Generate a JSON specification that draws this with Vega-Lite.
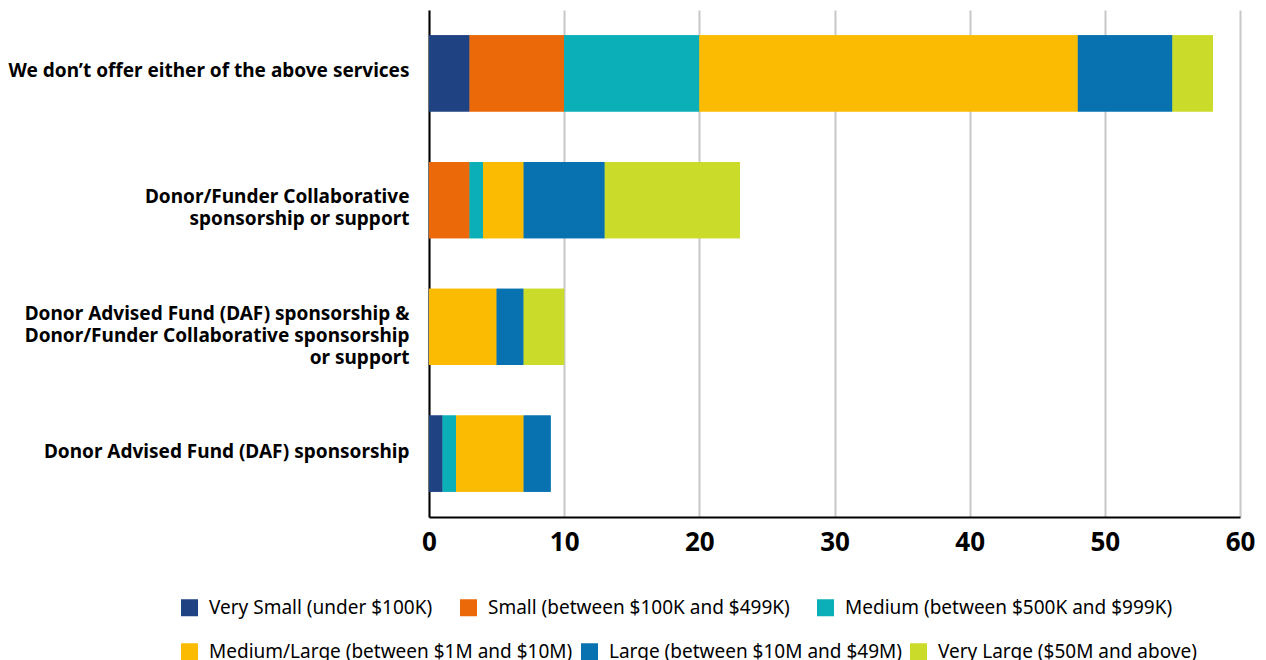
{
  "$schema": "https://vega.github.io/schema/vega-lite/v6.json",
  "autosize": {"type": "none"},
  "width": 811,
  "height": 507,
  "padding": {"left": 429, "top": 10, "right": 26, "bottom": 143},
  "background": "white",
  "config": {
    "view": {"stroke": null},
    "font": "Noto Sans",
    "legend": {
      "title": null,
      "orient": "none",
      "direction": "horizontal",
      "columnPadding": 7,
      "symbolType": "square",
      "symbolSize": 289,
      "symbolStrokeWidth": 0,
      "symbolOpacity": 1,
      "labelFont": "Noto Sans",
      "labelFontSize": 19,
      "labelColor": "#000000",
      "labelOffset": 10,
      "labelLimit": 500
    }
  },
  "data": {
    "values": [
      {"service": "We don’t offer either of the above services", "size": "Very Small (under $100K)", "count": 3},
      {"service": "We don’t offer either of the above services", "size": "Small (between $100K and $499K)", "count": 7},
      {"service": "We don’t offer either of the above services", "size": "Medium (between $500K and $999K)", "count": 10},
      {"service": "We don’t offer either of the above services", "size": "Medium/Large (between $1M and $10M)", "count": 28},
      {"service": "We don’t offer either of the above services", "size": "Large (between $10M and $49M)", "count": 7},
      {"service": "We don’t offer either of the above services", "size": "Very Large ($50M and above)", "count": 3},
      {"service": "Donor/Funder Collaborative|sponsorship or support", "size": "Small (between $100K and $499K)", "count": 3},
      {"service": "Donor/Funder Collaborative|sponsorship or support", "size": "Medium (between $500K and $999K)", "count": 1},
      {"service": "Donor/Funder Collaborative|sponsorship or support", "size": "Medium/Large (between $1M and $10M)", "count": 3},
      {"service": "Donor/Funder Collaborative|sponsorship or support", "size": "Large (between $10M and $49M)", "count": 6},
      {"service": "Donor/Funder Collaborative|sponsorship or support", "size": "Very Large ($50M and above)", "count": 10},
      {"service": "Donor Advised Fund (DAF) sponsorship &|Donor/Funder Collaborative sponsorship|or support", "size": "Medium/Large (between $1M and $10M)", "count": 5},
      {"service": "Donor Advised Fund (DAF) sponsorship &|Donor/Funder Collaborative sponsorship|or support", "size": "Large (between $10M and $49M)", "count": 2},
      {"service": "Donor Advised Fund (DAF) sponsorship &|Donor/Funder Collaborative sponsorship|or support", "size": "Very Large ($50M and above)", "count": 3},
      {"service": "Donor Advised Fund (DAF) sponsorship", "size": "Very Small (under $100K)", "count": 1},
      {"service": "Donor Advised Fund (DAF) sponsorship", "size": "Medium (between $500K and $999K)", "count": 1},
      {"service": "Donor Advised Fund (DAF) sponsorship", "size": "Medium/Large (between $1M and $10M)", "count": 5},
      {"service": "Donor Advised Fund (DAF) sponsorship", "size": "Large (between $10M and $49M)", "count": 2}
    ]
  },
  "transform": [
    {"calculate": "indexof(['Very Small (under $100K)', 'Small (between $100K and $499K)', 'Medium (between $500K and $999K)', 'Medium/Large (between $1M and $10M)', 'Large (between $10M and $49M)', 'Very Large ($50M and above)'], datum.size)", "as": "stackOrder"}
  ],
  "encoding": {
    "y": {
      "field": "service",
      "type": "nominal",
      "sort": null,
      "scale": {"paddingInner": 0.4, "paddingOuter": 0.2},
      "axis": {
        "title": null,
        "labelExpr": "split(datum.label, '|')",
        "labelFont": "Noto Sans",
        "labelFontSize": 19,
        "labelFontWeight": "bold",
        "labelColor": "#000000",
        "labelLineHeight": 22,
        "labelPadding": 20,
        "labelLimit": 420,
        "labelOffset": {
          "condition": [
            {"test": "length(split(datum.value, '|')) == 3", "value": -13},
            {"test": "length(split(datum.value, '|')) == 2", "value": -3}
          ],
          "value": -2
        },
        "ticks": false,
        "domainColor": "#000000",
        "domainWidth": 2
      }
    },
    "x": {
      "field": "count",
      "type": "quantitative",
      "stack": "zero",
      "scale": {"domain": [0, 60], "nice": false},
      "axis": {
        "title": null,
        "values": [0, 10, 20, 30, 40, 50, 60],
        "labelFont": "Noto Sans",
        "labelFontSize": 26,
        "labelFontWeight": "bold",
        "labelColor": "#000000",
        "labelPadding": 12,
        "labelFlush": false,
        "ticks": false,
        "domainColor": "#000000",
        "domainWidth": 2,
        "grid": true,
        "gridColor": "#c8c8c8",
        "gridWidth": 2
      }
    },
    "order": {"field": "stackOrder", "type": "quantitative", "sort": "ascending"}
  },
  "layer": [
    {
      "mark": {"type": "bar"},
      "encoding": {
        "color": {
          "field": "size",
          "type": "nominal",
          "scale": {
            "domain": ["Very Small (under $100K)", "Small (between $100K and $499K)", "Medium (between $500K and $999K)", "Medium/Large (between $1M and $10M)", "Large (between $10M and $49M)", "Very Large ($50M and above)"],
            "range": ["#1f4283", "#eb6909", "#0aafb8", "#fbbb03", "#0872b1", "#cbdb2a"]
          },
          "legend": {
            "values": ["Very Small (under $100K)", "Small (between $100K and $499K)", "Medium (between $500K and $999K)"],
            "legendX": -249,
            "legendY": 588,
            "columnPadding": 26
          }
        }
      }
    },
    {
      "mark": {"type": "bar"},
      "encoding": {
        "color": {
          "field": "size",
          "type": "nominal",
          "legend": {
            "values": ["Medium/Large (between $1M and $10M)", "Large (between $10M and $49M)", "Very Large ($50M and above)"],
            "legendX": -249,
            "legendY": 632,
            "columnPadding": 7
          }
        }
      }
    }
  ],
  "resolve": {"legend": {"color": "independent"}}
}
